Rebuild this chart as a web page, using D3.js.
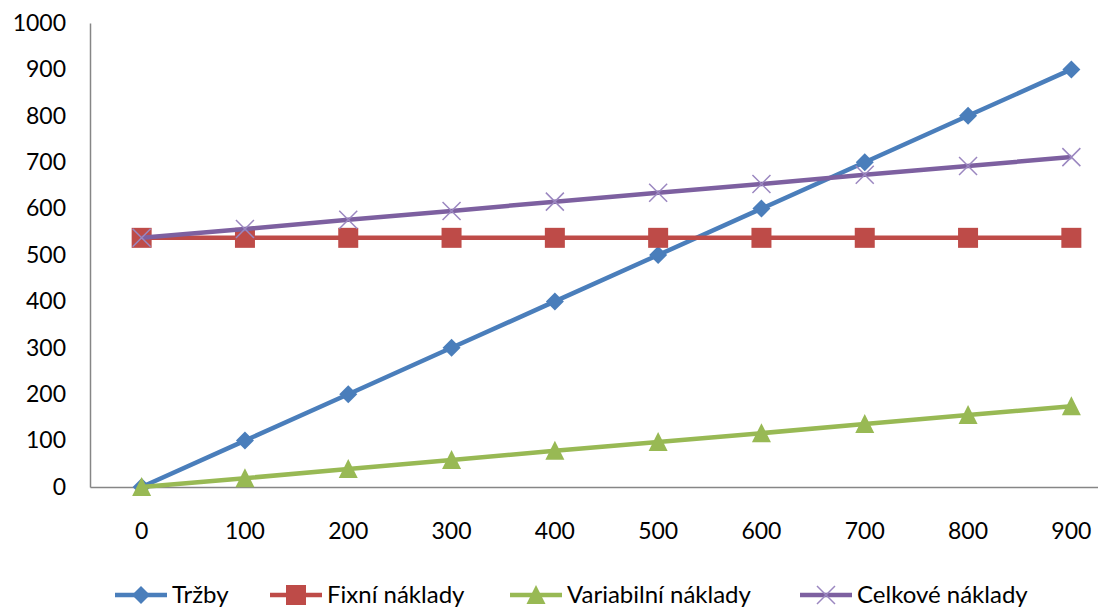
<!DOCTYPE html>
<html><head><meta charset="utf-8">
<script src="https://cdn.jsdelivr.net/npm/d3@7"></script>
<style>
html,body{margin:0;padding:0;background:#fff;overflow:hidden}
text{font-family:Lato,"Open Sans",sans-serif;fill:#000}
</style></head>
<body>
<svg id="c" width="1098" height="609"></svg>
<script>
const categories = [0,100,200,300,400,500,600,700,800,900];
const trzby = [0,100,200,300,400,500,600,700,800,900];
const fixni = [537,537,537,537,537,537,537,537,537,537];
const variabilni = [0,19,39,58,78,97,116,136,155,174];
const celkove = [537,556,576,595,615,634,653,673,692,711];
const yTicks = [0,100,200,300,400,500,600,700,800,900,1000];
const seriesNames = ["Tržby","Fixní náklady","Variabilní náklady","Celkové náklady"];
const colors = ["#4A7EBB","#BE4B48","#98B954","#7D60A0"];
const markers = ["diamond","square","triangle","x"];
const seriesData = [trzby, fixni, variabilni, celkove];

const svg = d3.select("#c");
const mLeft = 90, mRight = 1123, mTop = 23, mBottom = 487;
const x = d3.scaleBand().domain(categories).range([mLeft, mRight]);
const y = d3.scaleLinear().domain([0,1000]).range([mBottom, mTop]);

const yAxis = svg.append("g").attr("transform",`translate(${mLeft},0)`)
  .call(d3.axisLeft(y).tickValues(yTicks).tickFormat(d3.format("d")).tickSize(0).tickPadding(24));
yAxis.select(".domain").attr("stroke","#868686").attr("stroke-width",1.5);
yAxis.selectAll("text").attr("font-size",23).style("font-family","Lato");

const xAxis = svg.append("g").attr("transform",`translate(0,${mBottom})`)
  .call(d3.axisBottom(x).tickSize(0).tickPadding(36));
xAxis.select(".domain").attr("stroke","#868686").attr("stroke-width",1.5);
xAxis.selectAll("text").attr("font-size",23).style("font-family","Lato");

function drawMarker(g, type, color, cx, cy){
  if(type==="diamond"){
    g.append("path").attr("d",`M${cx},${cy-9}L${cx+9},${cy}L${cx},${cy+9}L${cx-9},${cy}Z`).attr("fill",color);
  } else if(type==="square"){
    g.append("rect").attr("x",cx-10).attr("y",cy-10).attr("width",20).attr("height",20).attr("fill",color);
  } else if(type==="triangle"){
    g.append("path").attr("d",`M${cx},${cy-10}L${cx+9.5},${cy+9}L${cx-9.5},${cy+9}Z`).attr("fill",color);
  } else {
    g.append("path").attr("d",`M${cx-9},${cy-9}L${cx+9},${cy+9}M${cx+9},${cy-9}L${cx-9},${cy+9}`)
      .attr("stroke","#9B87C0").attr("stroke-width",1.5).attr("fill","none");
  }
}

const line = d3.line().x((d,i)=>x(categories[i])+x.bandwidth()/2).y(d=>y(d));
seriesData.forEach((data,si)=>{
  const g = svg.append("g");
  g.append("path").datum(data).attr("d",line).attr("fill","none")
    .attr("stroke",colors[si]).attr("stroke-width",4.5).attr("stroke-linejoin","round");
  data.forEach((v,i)=>drawMarker(g, markers[si], colors[si], x(categories[i])+x.bandwidth()/2, y(v)));
});

const legendX = [115, 270, 510, 800];
const ly = 595;
seriesNames.forEach((n,si)=>{
  const g = svg.append("g");
  g.append("line").attr("x1",legendX[si]).attr("x2",legendX[si]+52).attr("y1",ly).attr("y2",ly)
    .attr("stroke",colors[si]).attr("stroke-width",4.5);
  drawMarker(g, markers[si], colors[si], legendX[si]+26, ly);
  g.append("text").attr("x",legendX[si]+57).attr("y",ly).attr("dy","0.35em")
    .attr("font-size",24).text(n);
});
</script>
</body></html>
